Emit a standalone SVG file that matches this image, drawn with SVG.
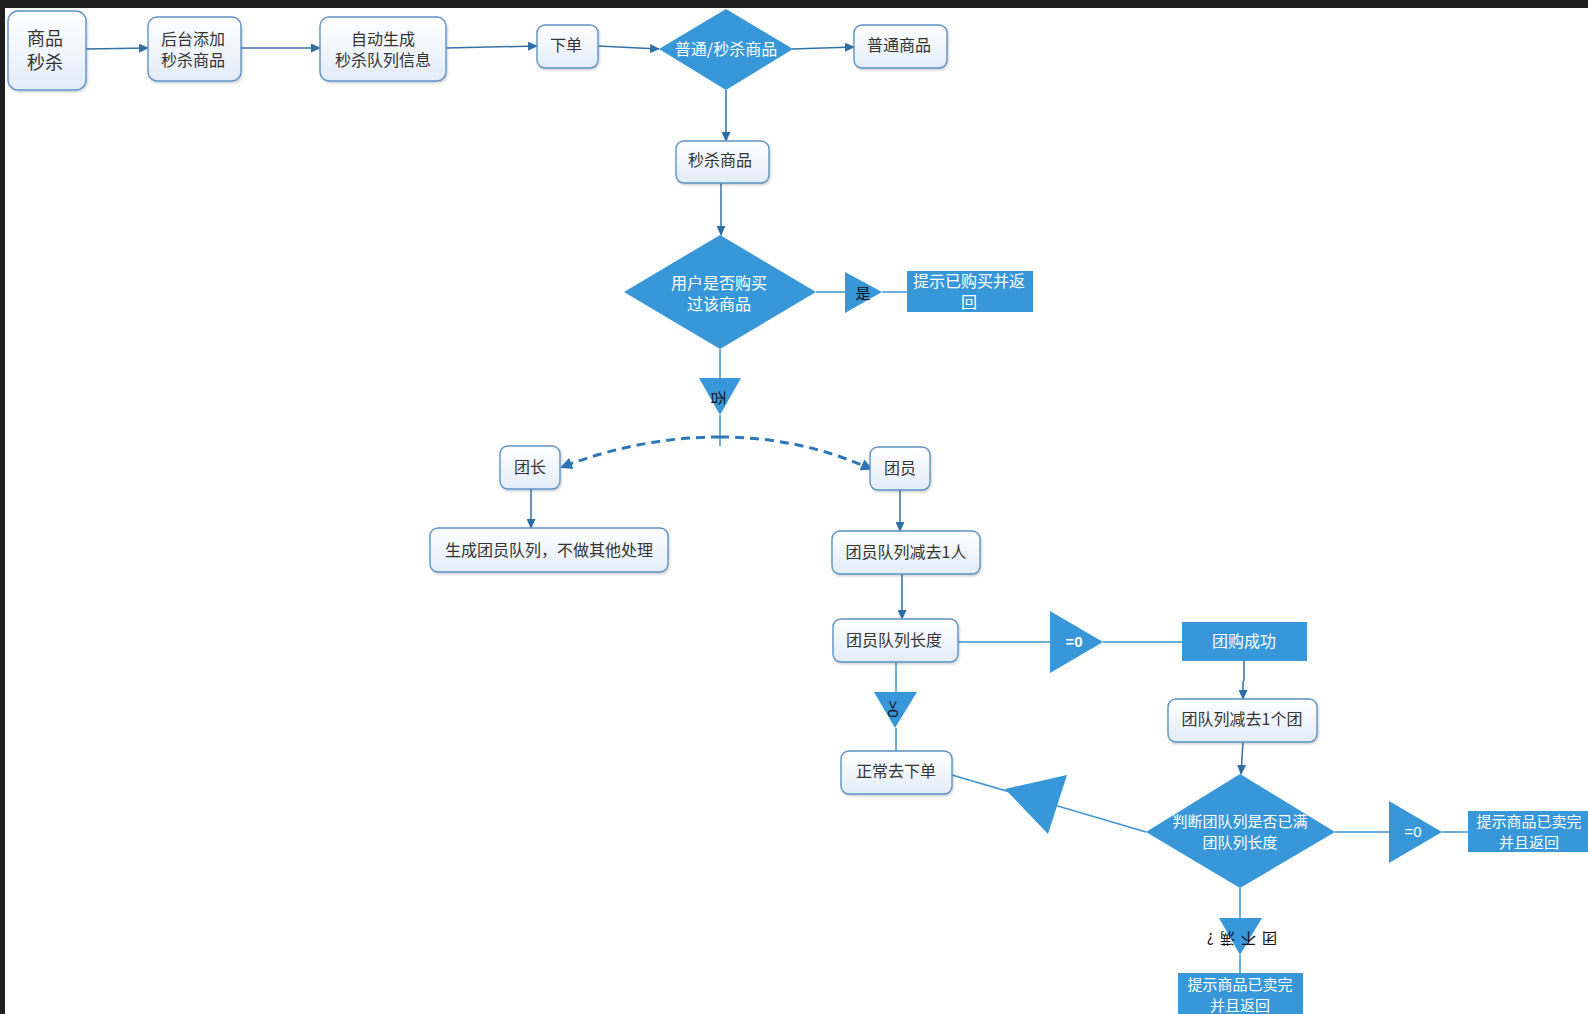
<svg xmlns="http://www.w3.org/2000/svg" width="1588" height="1014" viewBox="0 0 1588 1014">
<defs>
<linearGradient id="g" x1="0" y1="0" x2="0" y2="1">
<stop offset="0" stop-color="#ffffff"/>
<stop offset="1" stop-color="#e2ecf8"/>
</linearGradient>
<filter id="sh" x="-10%" y="-10%" width="130%" height="140%">
<feDropShadow dx="1" dy="1.5" stdDeviation="1.2" flood-color="#000" flood-opacity="0.2"/>
</filter>
<marker id="ar" markerUnits="userSpaceOnUse" markerWidth="10" markerHeight="9" refX="9" refY="4.5" orient="auto">
<path d="M0,0 L10,4.5 L0,9 z" fill="#2f6ea5"/>
</marker>
<marker id="ad" markerUnits="userSpaceOnUse" markerWidth="12" markerHeight="12" refX="10" refY="6" orient="auto">
<path d="M0,0 L12,6 L0,12 z" fill="#2e76b6"/>
</marker>
</defs>
<style>
.n rect{fill:url(#g);stroke:#5f93c6;stroke-width:1.4;filter:url(#sh)}
.t{font-family:"Noto Sans CJK SC","Liberation Sans",sans-serif;font-size:16px;fill:#333;text-anchor:middle}
.s{font-size:15px}
.w{fill:#fff}
.k{fill:#111;font-size:15px}
.bl{fill:#3897d8}
.c{fill:none;stroke:#3571a6;stroke-width:1.5}
.l{fill:none;stroke:#3b93d0;stroke-width:1.5}
</style>
<rect width="1588" height="1014" fill="#fff"/>
<rect width="1588" height="8" fill="#1f1f1f"/>
<rect width="5" height="1014" fill="#1f1f1f"/>

<g id="connectors">
<path class="c" d="M86,49 L148,48" marker-end="url(#ar)"/>
<path class="c" d="M241,48 L320,48" marker-end="url(#ar)"/>
<path class="c" d="M446,48 L537,46" marker-end="url(#ar)"/>
<path class="c" d="M598,46 L659,49" marker-end="url(#ar)"/>
<path class="c" d="M792,49 L854,47" marker-end="url(#ar)"/>
<path class="c" d="M726,90 L726,141" marker-end="url(#ar)"/>
<path class="c" d="M721,183 L721,235" marker-end="url(#ar)"/>
<path class="l" d="M816,292 L845,292 M882,292 L907,292"/>
<path class="l" d="M720,349 L720,378 M720,415 L720,446"/>
<path fill="none" stroke="#2e76b6" stroke-width="3" stroke-dasharray="9 6" d="M720,437 Q640,437 562,467" marker-end="url(#ad)"/>
<path fill="none" stroke="#2e76b6" stroke-width="3" stroke-dasharray="9 6" d="M720,437 Q800,437 871,469" marker-end="url(#ad)"/>
<path class="c" d="M531,489 L531,528" marker-end="url(#ar)"/>
<path class="c" d="M900,490 L900,531" marker-end="url(#ar)"/>
<path class="c" d="M902,574 L902,619" marker-end="url(#ar)"/>
<path class="l" d="M958,642 L1050,642 M1103,642 L1182,642"/>
<path class="l" d="M896,662 L896,692 M896,728 L896,751"/>
<path class="c" d="M1244,661 L1244,680 L1243,682 L1243,699" marker-end="url(#ar)"/>
<path class="c" d="M1243,742 L1241,774" marker-end="url(#ar)"/>
<path class="l" d="M952,775 L1146,832"/>
<path class="l" d="M1335,832 L1389,832 M1442,832 L1468,832"/>
<path class="l" d="M1240,888 L1240,918 M1240,955 L1240,973"/>
</g>

<g id="n1" class="n"><rect x="8" y="11" width="78" height="79" rx="10"/><text class="t" x="45" y="45" style="font-size:18px">商品</text><text class="t" x="45" y="69" style="font-size:18px">秒杀</text></g>
<g id="n2" class="n"><rect x="148" y="17" width="93" height="64" rx="9"/><text class="t" x="193" y="45">后台添加</text><text class="t" x="193" y="66">秒杀商品</text></g>
<g id="n3" class="n"><rect x="320" y="17" width="126" height="64" rx="9"/><text class="t" x="383" y="45">自动生成</text><text class="t" x="383" y="66">秒杀队列信息</text></g>
<g id="n4" class="n"><rect x="537" y="25" width="61" height="43" rx="8"/><text class="t" x="566" y="51">下单</text></g>
<g id="d1"><polygon class="bl" points="726,9 793,49 726,90 659,49"/><text class="t w" x="726" y="55">普通/秒杀商品</text></g>
<g id="n5" class="n"><rect x="854" y="25" width="93" height="43" rx="8"/><text class="t" x="899" y="51">普通商品</text></g>
<g id="n6" class="n"><rect x="676" y="141" width="93" height="42" rx="8"/><text class="t" x="720" y="166">秒杀商品</text></g>
<g id="d2"><polygon class="bl" points="720,235 816,292 720,349 624,292"/><text class="t w" x="719" y="289">用户是否购买</text><text class="t w" x="719" y="310">过该商品</text></g>
<g id="t1"><polygon class="bl" points="845,272 882,292 845,313"/><text class="t k" x="863" y="299">是</text></g>
<g id="r1"><rect class="bl" x="907" y="271" width="126" height="41"/><text class="t w" x="969" y="287">提示已购买并返</text><text class="t w" x="969" y="308">回</text></g>
<g id="t2"><polygon class="bl" points="699,378 741,378 720,415"/><text class="t k" transform="translate(718,398) rotate(90)" y="5">否</text></g>
<g id="n7" class="n"><rect x="500" y="446" width="60" height="43" rx="8"/><text class="t" x="530" y="473">团长</text></g>
<g id="n8" class="n"><rect x="430" y="528" width="238" height="44" rx="8"/><text class="t" x="549" y="556">生成团员队列，不做其他处理</text></g>
<g id="n9" class="n"><rect x="870" y="447" width="60" height="43" rx="8"/><text class="t" x="900" y="474">团员</text></g>
<g id="n10" class="n"><rect x="832" y="531" width="148" height="43" rx="8"/><text class="t" x="906" y="558">团员队列减去1人</text></g>
<g id="n11" class="n"><rect x="833" y="619" width="125" height="43" rx="8"/><text class="t" x="894" y="646">团员队列长度</text></g>
<g id="t3"><polygon class="bl" points="1050,611 1103,642 1050,673"/><text class="t w" x="1074" y="647" style="font-size:15px;font-weight:bold;font-family:'Liberation Sans',sans-serif">=0</text></g>
<g id="r2"><rect class="bl" x="1182" y="622" width="125" height="39"/><text class="t w" x="1244" y="647">团购成功</text></g>
<g id="n12" class="n"><rect x="1168" y="699" width="149" height="43" rx="8"/><text class="t" x="1242" y="725">团队列减去1个团</text></g>
<g id="t4"><polygon class="bl" points="874,692 917,692 895,728"/><text class="t k" transform="translate(893,709) rotate(90)" y="5" style="font-family:'Liberation Sans',sans-serif">&gt;0</text></g>
<g id="n13" class="n"><rect x="841" y="751" width="111" height="43" rx="8"/><text class="t" x="896" y="777">正常去下单</text></g>
<g id="t5"><polygon class="bl" points="1005,789 1067,775 1048,834"/></g>
<g id="d3"><polygon class="bl" points="1240,774 1335,832 1240,888 1146,832"/><text class="t w s" x="1240" y="827">判断团队列是否已满</text><text class="t w s" x="1240" y="848">团队列长度</text></g>
<g id="t6"><polygon class="bl" points="1389,801 1442,832 1389,863"/><text class="t w" x="1413" y="837" style="font-size:15px;font-family:'Liberation Sans',sans-serif">=0</text></g>
<g id="r3"><rect class="bl" x="1468" y="811" width="122" height="41"/><text class="t w s" x="1529" y="827">提示商品已卖完</text><text class="t w s" x="1529" y="848">并且返回</text></g>
<g id="t7"><polygon class="bl" points="1219,918 1262,918 1240,955"/><text class="t k" transform="translate(1239,938) rotate(180)" y="5" style="letter-spacing:6px">团不满?</text></g>
<g id="r4"><rect class="bl" x="1178" y="973" width="125" height="45"/><text class="t w s" x="1240" y="990">提示商品已卖完</text><text class="t w s" x="1240" y="1011">并且返回</text></g>
</svg>
